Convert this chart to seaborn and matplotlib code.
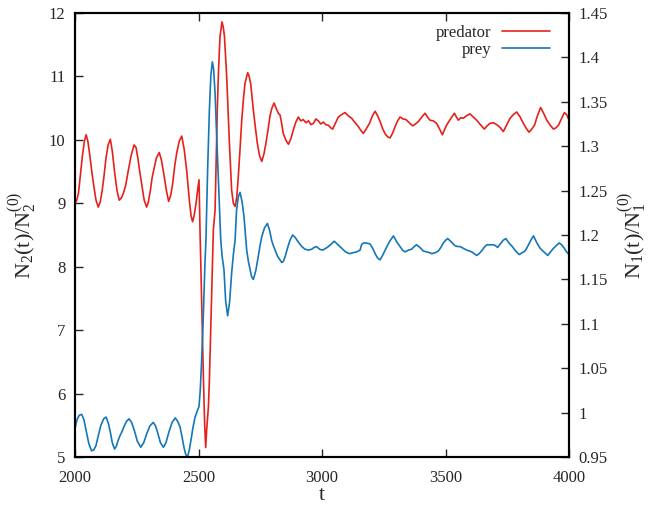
import matplotlib
matplotlib.use("Agg")
import matplotlib.pyplot as plt
import matplotlib.ticker as mticker
import seaborn as sns

# predator, left axis: N2(t)/N2(0)
pred_t = [2000, 2007, 2014, 2022, 2030, 2038, 2045, 2052, 2060, 2068, 2075, 2085, 2094, 2102,
          2110, 2118, 2125, 2134, 2143, 2151, 2160, 2170, 2179, 2187, 2195, 2205, 2215, 2227,
          2239, 2247, 2255, 2262, 2270, 2280, 2290, 2297, 2305, 2312, 2320, 2330, 2341, 2350,
          2360, 2370, 2379, 2387, 2395, 2404, 2412, 2422, 2432, 2442, 2452, 2458, 2464, 2470,
          2476, 2483, 2490, 2496, 2502, 2506, 2513, 2520, 2525, 2529, 2533, 2540, 2544, 2552,
          2560, 2567, 2576, 2581, 2587, 2595, 2600, 2605, 2614, 2625, 2634, 2641, 2648, 2655,
          2661, 2668, 2675, 2682, 2688, 2699, 2705, 2711, 2722, 2730, 2738, 2747, 2756, 2765,
          2773, 2781, 2789, 2797, 2806, 2814, 2823, 2830, 2837, 2843, 2853, 2864, 2874, 2884,
          2894, 2904, 2914, 2924, 2935, 2945, 2955, 2965, 2975, 2985, 2995, 3005, 3015, 3026,
          3035, 3043, 3055, 3066, 3080, 3093, 3106, 3120, 3134, 3147, 3157, 3167, 3180, 3192,
          3204, 3215, 3225, 3235, 3245, 3255, 3265, 3275, 3285, 3296, 3306, 3316, 3328, 3340,
          3353, 3367, 3378, 3390, 3404, 3417, 3427, 3437, 3450, 3464, 3476, 3487, 3495, 3504,
          3520, 3536, 3544, 3552, 3562, 3572, 3585, 3599, 3612, 3626, 3641, 3657, 3668, 3680,
          3694, 3707, 3720, 3734, 3748, 3761, 3775, 3788, 3802, 3815, 3827, 3838, 3849, 3860,
          3872, 3885, 3897, 3910, 3924, 3937, 3947, 3957, 3969, 3981, 3990, 4000]
pred_v = [9.00, 9.05, 9.16, 9.45, 9.75, 9.98, 10.08, 9.98, 9.75, 9.50, 9.30, 9.05, 8.94, 9.02,
          9.20, 9.45, 9.70, 9.92, 10.01, 9.82, 9.50, 9.20, 9.05, 9.08, 9.15, 9.28, 9.50, 9.75,
          9.92, 9.88, 9.70, 9.50, 9.30, 9.05, 8.94, 9.02, 9.20, 9.40, 9.55, 9.72, 9.80, 9.68,
          9.45, 9.20, 9.03, 9.12, 9.30, 9.60, 9.80, 9.98, 10.06, 9.85, 9.52, 9.25, 9.00, 8.80,
          8.71, 8.82, 9.00, 9.20, 9.37, 8.58, 7.40, 6.21, 5.50, 5.15, 5.43, 5.79, 6.21, 7.40,
          8.58, 8.89, 10.47, 11.10, 11.63, 11.86, 11.78, 11.63, 11.00, 9.95, 9.21, 9.00, 8.95, 9.10,
          9.42, 9.85, 10.31, 10.65, 10.89, 11.06, 11.00, 10.89, 10.47, 10.20, 9.95, 9.75, 9.66, 9.78,
          9.95, 10.15, 10.37, 10.50, 10.58, 10.50, 10.42, 10.39, 10.25, 10.10, 10.00, 9.93, 10.02, 10.16,
          10.28, 10.36, 10.30, 10.32, 10.27, 10.30, 10.24, 10.26, 10.33, 10.30, 10.25, 10.28, 10.24, 10.23,
          10.19, 10.17, 10.27, 10.36, 10.40, 10.43, 10.38, 10.34, 10.27, 10.21, 10.15, 10.10, 10.18, 10.26,
          10.38, 10.45, 10.38, 10.29, 10.18, 10.10, 10.05, 10.03, 10.10, 10.21, 10.30, 10.36, 10.33, 10.32,
          10.27, 10.22, 10.25, 10.29, 10.36, 10.42, 10.36, 10.31, 10.30, 10.26, 10.17, 10.08, 10.15, 10.23,
          10.33, 10.42, 10.36, 10.31, 10.35, 10.34, 10.38, 10.41, 10.36, 10.31, 10.24, 10.17, 10.22, 10.26,
          10.27, 10.24, 10.20, 10.13, 10.24, 10.34, 10.40, 10.44, 10.36, 10.26, 10.18, 10.12, 10.17, 10.23,
          10.38, 10.51, 10.42, 10.31, 10.23, 10.17, 10.19, 10.23, 10.33, 10.43, 10.40, 10.31]

# prey, right axis: N1(t)/N1(0)
prey_t = [2000, 2008, 2017, 2027, 2036, 2045, 2056, 2067, 2076, 2085, 2095, 2105, 2116, 2126,
          2135, 2143, 2151, 2160, 2167, 2175, 2182, 2189, 2198, 2208, 2219, 2229, 2240, 2252,
          2266, 2278, 2290, 2303, 2317, 2326, 2335, 2346, 2358, 2368, 2380, 2393, 2406, 2416,
          2425, 2433, 2441, 2448, 2455, 2462, 2470, 2478, 2486, 2494, 2502, 2507, 2512, 2519,
          2526, 2530, 2537, 2544, 2550, 2556, 2561, 2567, 2573, 2580, 2585, 2590, 2596, 2603,
          2610, 2618, 2626, 2634, 2641, 2648, 2654, 2661, 2668, 2676, 2684, 2695, 2702, 2709,
          2715, 2722, 2732, 2742, 2749, 2756, 2767, 2779, 2788, 2796, 2803, 2810, 2820, 2830,
          2837, 2843, 2851, 2860, 2870, 2881, 2892, 2904, 2918, 2931, 2945, 2958, 2968, 2978,
          2990, 3003, 3015, 3026, 3038, 3049, 3065, 3080, 3095, 3111, 3126, 3140, 3154, 3160,
          3167, 3180, 3194, 3205, 3215, 3225, 3235, 3247, 3259, 3274, 3289, 3303, 3316, 3326,
          3336, 3350, 3363, 3373, 3383, 3396, 3410, 3424, 3437, 3444, 3458, 3471, 3481, 3491,
          3500, 3509, 3524, 3538, 3549, 3559, 3572, 3586, 3596, 3606, 3616, 3626, 3636, 3646,
          3656, 3667, 3680, 3694, 3702, 3711, 3722, 3733, 3744, 3757, 3770, 3784, 3798, 3810,
          3822, 3834, 3845, 3856, 3870, 3883, 3898, 3914, 3925, 3937, 3948, 3960, 3970, 3981,
          3990, 4000]
prey_v = [0.982, 0.992, 0.997, 0.998, 0.992, 0.980, 0.965, 0.957, 0.958, 0.963, 0.975, 0.986, 0.993, 0.995,
          0.988, 0.978, 0.966, 0.959, 0.962, 0.969, 0.974, 0.978, 0.984, 0.990, 0.993, 0.989, 0.980, 0.968,
          0.961, 0.966, 0.976, 0.985, 0.989, 0.985, 0.977, 0.966, 0.961, 0.966, 0.978, 0.989, 0.994, 0.990,
          0.984, 0.973, 0.961, 0.953, 0.950, 0.957, 0.970, 0.984, 0.995, 1.001, 1.007, 1.025, 1.055, 1.105,
          1.168, 1.194, 1.275, 1.341, 1.380, 1.395, 1.387, 1.360, 1.315, 1.266, 1.230, 1.194, 1.175, 1.161,
          1.125, 1.109, 1.125, 1.157, 1.178, 1.194, 1.228, 1.243, 1.248, 1.238, 1.221, 1.183, 1.170, 1.161,
          1.153, 1.150, 1.160, 1.176, 1.188, 1.198, 1.208, 1.213, 1.205, 1.194, 1.188, 1.183, 1.176, 1.172,
          1.169, 1.170, 1.176, 1.185, 1.194, 1.200, 1.197, 1.192, 1.187, 1.184, 1.183, 1.184, 1.186, 1.187,
          1.184, 1.183, 1.185, 1.187, 1.190, 1.193, 1.189, 1.185, 1.181, 1.179, 1.180, 1.181, 1.183, 1.189,
          1.191, 1.191, 1.190, 1.185, 1.179, 1.174, 1.172, 1.178, 1.185, 1.193, 1.199, 1.192, 1.187, 1.183,
          1.181, 1.183, 1.184, 1.187, 1.189, 1.186, 1.182, 1.181, 1.180, 1.179, 1.180, 1.182, 1.186, 1.191,
          1.194, 1.196, 1.192, 1.188, 1.187, 1.187, 1.185, 1.183, 1.182, 1.181, 1.179, 1.177, 1.179, 1.182,
          1.186, 1.189, 1.189, 1.189, 1.188, 1.186, 1.190, 1.194, 1.196, 1.191, 1.187, 1.182, 1.178, 1.180,
          1.182, 1.188, 1.194, 1.199, 1.191, 1.185, 1.181, 1.177, 1.181, 1.185, 1.188, 1.191, 1.189, 1.185,
          1.181, 1.178]

left_ticks = [5, 6, 7, 8, 9, 10, 11, 12]
right_ticks = [0.95, 1.0, 1.05, 1.1, 1.15, 1.2, 1.25, 1.3, 1.35, 1.4, 1.45]
x_ticks = [2000, 2500, 3000, 3500, 4000]

RED = "#e6211c"
BLUE = "#1477b8"

sns.set_style("ticks")
plt.rcParams["font.family"] = ["Liberation Serif", "DejaVu Serif"]
plt.rcParams["mathtext.fontset"] = "custom"
plt.rcParams["mathtext.rm"] = "Liberation Serif"
plt.rcParams["mathtext.it"] = "Liberation Serif:italic"

fig = plt.figure(figsize=(6.54, 5.12), dpi=100)
ax = fig.add_axes([0.1147, 0.1074, 0.7554, 0.8672])
ax2 = ax.twinx()

sns.lineplot(x=pred_t, y=pred_v, ax=ax, color=RED, lw=1.2, label="predator", legend=False)
sns.lineplot(x=prey_t, y=prey_v, ax=ax2, color=BLUE, lw=1.2, label="prey", legend=False)

ax.set_xlim(2000, 4000)
ax.set_ylim(5, 12)
ax2.set_ylim(0.95, 1.45)
ax.set_xticks(x_ticks)
ax.set_yticks(left_ticks)
ax2.set_yticks(right_ticks)
ax2.yaxis.set_major_formatter(mticker.FormatStrFormatter("%g"))

ax.tick_params(axis="both", which="major", direction="in", length=6, width=1,
               labelsize=12, top=True, right=False)
ax.tick_params(axis="x", pad=9)
ax.tick_params(axis="y", pad=7)
ax2.tick_params(axis="y", direction="in", length=6, width=1, labelsize=12, pad=7)

for a in (ax, ax2):
    for s in a.spines.values():
        s.set_linewidth(1.5)
        s.set_color("black")

ax.set_xlabel("t", fontsize=16, labelpad=0)
ax.set_ylabel(r"N$_\mathregular{2}$(t)/N$_\mathregular{2}^\mathregular{(0)}$", fontsize=16, labelpad=6)
ax2.set_ylabel(r"N$_\mathregular{1}$(t)/N$_\mathregular{1}^\mathregular{(0)}$", fontsize=16, labelpad=6)

h1, l1 = ax.get_legend_handles_labels()
h2, l2 = ax2.get_legend_handles_labels()
ax2.legend(h1 + h2, l1 + l2, loc="upper right", bbox_to_anchor=(0.985, 1.0),
           frameon=False, markerfirst=False, fontsize=12, handlelength=2.9,
           handletextpad=0.6, labelspacing=0.05, borderaxespad=0.3)

fig.savefig("out.png", dpi=100)
